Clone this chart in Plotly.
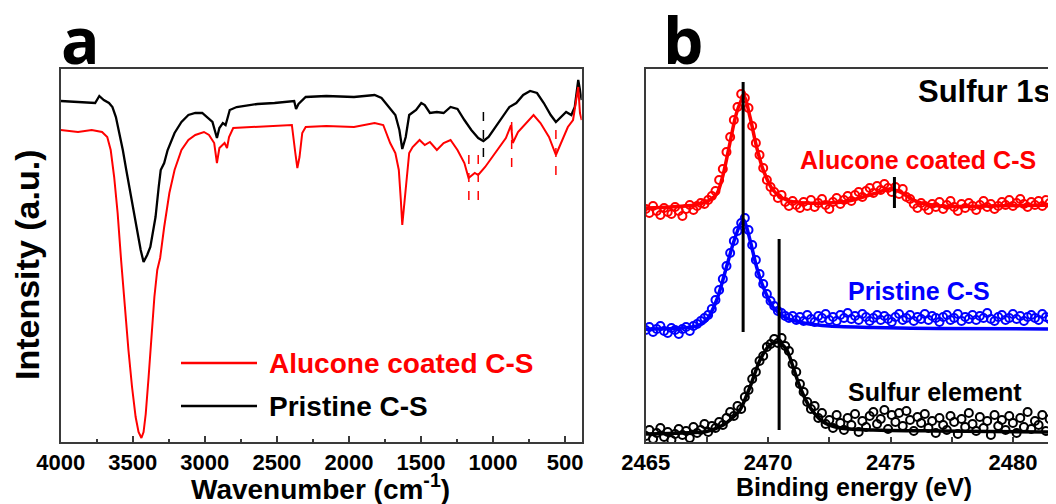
import numpy as np
import plotly.graph_objects as go

# ---------------- Panel a: FTIR ----------------
pristine_wn = [4000, 3880, 3761, 3732, 3701, 3665, 3641, 3617, 3593, 3569, 3545, 3509, 3473, 3445,
               3425, 3400, 3378, 3342, 3320, 3306, 3282, 3258, 3210, 3162, 3114, 3066, 3018, 2983,
               2947, 2916, 2899, 2875, 2856, 2846, 2827, 2779, 2635, 2516, 2396, 2380, 2367, 2350,
               2300, 2157, 1965, 1822, 1774, 1726, 1678, 1650, 1630, 1606, 1582, 1534, 1498, 1474,
               1438, 1390, 1343, 1295, 1247, 1199, 1151, 1103, 1067, 1031, 983, 935, 887, 839, 791,
               743, 695, 648, 600, 564, 529, 493, 457, 433, 409, 397, 385]
pristine_int = [341, 340, 339, 346, 342, 339, 335, 325, 310, 292, 272, 242, 212, 192,
                180, 187, 195, 225, 255, 272, 279, 292, 309, 320, 327, 329, 329, 325,
                320, 304, 314, 319, 317, 322, 332, 335, 338, 339, 341, 341, 333, 338,
                345, 346, 345, 347, 344, 335, 327, 312, 293, 305, 327, 332, 339, 337,
                329, 330, 329, 335, 333, 322, 312, 304, 301, 305, 315, 325, 335, 339, 347,
                351, 349, 339, 327, 320, 325, 330, 327, 335, 362, 352, 342]

alucone_wn = [4000, 3880, 3785, 3713, 3677, 3653, 3629, 3605, 3581, 3555, 3530, 3505, 3480, 3460,
              3440, 3425, 3410, 3390, 3370, 3350, 3330, 3310, 3282, 3246, 3210, 3162, 3114, 3066,
              3006, 2971, 2935, 2916, 2899, 2863, 2846, 2832, 2803, 2635, 2396, 2372, 2358, 2343,
              2324, 2300, 2157, 1965, 1822, 1762, 1714, 1678, 1654, 1640, 1630, 1620, 1606, 1582,
              1558, 1510, 1474, 1438, 1390, 1343, 1295, 1247, 1199, 1170, 1127, 1103, 1055, 983,
              911, 875, 863, 827, 767, 719, 671, 612, 564, 529, 481, 445, 421, 409, 397, 385]
alucone_int = [312, 310, 312, 310, 305, 292, 265, 229, 182, 135, 92, 55, 25, 10,
               4, 10, 28, 65, 105, 145, 172, 184, 215, 249, 272, 292, 302, 307,
               310, 307, 299, 279, 294, 299, 294, 305, 314, 315, 317, 289, 274, 285,
               309, 315, 316, 315, 319, 317, 299, 289, 272, 242, 217, 232, 255, 289,
               295, 302, 297, 300, 292, 299, 302, 292, 279, 264, 269, 267, 275, 289,
               304, 317, 299, 310, 320, 327, 319, 305, 287, 299, 315, 322, 345, 355, 329, 322]

pristine_mark_wn = [1067]
pristine_mark_top = [335]
pristine_mark_bottom = [285]
alucone_mark_wn = [1168, 1103, 871, 564]
alucone_mark_top = [292, 292, 325, 317]
alucone_mark_bottom = [242, 242, 275, 267]

ftir_ticks = [4000, 3500, 3000, 2500, 2000, 1500, 1000, 500]
ftir_minor = [3750, 3250, 2750, 2250, 1750, 1250, 750]

# ---------------- Panel b: XPS S 1s ----------------
xps_energy = np.round(2465.0 + 0.15 * np.arange(112), 2)

alucone_xps_pts = [233, 229, 236, 231, 227, 234, 230, 228, 235, 231,
                   226, 233, 237, 232, 236, 239, 238, 242, 246, 251,
                   262, 273, 290, 305, 322, 335, 348, 344, 334, 316,
                   299, 287, 274, 262, 255, 250, 244, 247, 240, 236,
                   241, 237, 234, 240, 236, 242, 235, 239, 243, 237,
                   233, 240, 244, 238, 242, 246, 241, 247, 250, 245,
                   251, 254, 249, 256, 252, 258, 254, 250, 255, 248,
                   253, 245, 243, 238, 234, 239, 236, 232, 238, 235,
                   240, 233, 237, 241, 235, 231, 238, 234, 239, 236,
                   232, 237, 241, 235, 238, 233, 236, 240, 237, 242,
                   236, 239, 243, 238, 235, 240, 237, 241, 236, 242, 239, 243]
pristine_xps_pts = [112, 115, 110, 113, 116, 111, 109, 114, 112, 108,
                    113, 115, 111, 116, 118, 121, 124, 127, 133, 142,
                    152, 163, 176, 189, 201, 211, 219, 224, 212, 197,
                    182, 168, 158, 148, 141, 136, 131, 129, 126, 124,
                    126, 122, 125, 121, 127, 123, 120, 126, 124, 128,
                    122, 125, 121, 127, 124, 129, 123, 126, 122, 128,
                    125, 121, 124, 127, 122, 126, 123, 120, 125, 128,
                    122, 124, 127, 121, 125, 123, 128, 122, 126, 124,
                    120, 125, 127, 122, 124, 128, 121, 125, 123, 127,
                    122, 126, 124, 129, 123, 121, 125, 127, 122, 124,
                    128, 123, 126, 121, 125, 127, 124, 122, 128, 125, 123, 126]
sulfur_xps_pts = [6, 12, 3, 9, 14, 5, 10, 2, 8, 13,
                  7, 11, 4, 15, 9, 12, 18, 10, 16, 14,
                  20, 17, 24, 30, 26, 36, 33, 45, 52, 63,
                  70, 81, 86, 95, 98, 103, 99, 104, 96, 91,
                  78, 70, 58, 50, 40, 33, 36, 24, 29, 18,
                  22, 14, 27, 19, 12, 24, 17, 28, 10, 21,
                  15, 26, 30, 18, 23, 32, 13, 27, 20, 29,
                  16, 31, 22, 11, 25, 19, 28, 14, 21, 9,
                  24, 17, 12, 26, 20, 8, 23, 15, 29, 18,
                  11, 25, 14, 21, 7, 27, 16, 22, 12, 26,
                  19, 9, 24, 15, 30, 13, 21, 17, 27, 11, 23, 20]

alucone_fit_e = [2465.0, 2466.0, 2467.0, 2467.5, 2467.9, 2468.17, 2468.44, 2468.71, 2469.01, 2469.26,
                 2469.53, 2469.8, 2470.2, 2470.75, 2471.57, 2473.2, 2474.28, 2474.97, 2475.38,
                 2476.06, 2477.0, 2479.0, 2481.8]
alucone_fit_v = [234, 235, 237, 240.5, 248, 268, 299, 329, 346, 325,
                 295, 272, 252, 242, 239, 240.5, 248, 253, 250,
                 240.5, 236, 236, 237]
pristine_fit_e = [2465.0, 2466.5, 2467.2, 2467.49, 2467.9, 2468.3, 2468.58, 2468.85, 2469.01, 2469.26,
                  2469.53, 2469.8, 2470.2, 2470.75, 2471.57, 2472.5, 2474.3, 2477.0, 2481.8]
pristine_fit_v = [113, 114, 117, 122, 142, 175, 199, 217, 222, 202,
                  175, 155, 135, 124, 118.5, 116, 114.5, 113.5, 113]
sulfur_fit_e = [2465.0, 2466.5, 2467.49, 2468.17, 2468.58, 2468.85, 2469.26, 2469.67, 2470.07, 2470.41,
                2470.76, 2471.02, 2471.3, 2471.7, 2472.25, 2472.93, 2474.29, 2477.0, 2481.8]
sulfur_fit_v = [8, 9, 10.5, 17, 25, 32, 55, 82, 97, 100,
                92, 75, 55, 35, 20, 14, 12, 11, 10]

xps_line_e = [2468.98, 2470.45, 2475.16]
xps_line_top = [360, 203, 265]
xps_line_bottom = [110, 12, 234]

xps_ticks = [2465, 2470, 2475, 2480]
xps_minor = [2467.5, 2472.5, 2477.5]

# ---------------- figure ----------------
# the page body has an 8 px margin, so the figure is made 8 px smaller and
# every reference pixel coordinate is shifted by that offset
OFF = 8
W, H = 1056 - OFF, 504 - OFF
def px(x):
    return (x - OFF) / W
def py(y):
    return 1 - (y - OFF) / H

RED = "#ff0000"
BLUE = "#0000ff"
BLK = "#000000"
FONT = "Liberation Sans, Arial, sans-serif"

def vsegs(xs, tops, bots):
    X, Y = [], []
    for x, t, b in zip(xs, tops, bots):
        X += [x, x, None]
        Y += [b, t, None]
    return X, Y

fig = go.Figure()

fig.add_trace(go.Scatter(x=pristine_wn, y=pristine_int, mode="lines",
                         line=dict(color=BLK, width=2.3), xaxis="x", yaxis="y", showlegend=False))
fig.add_trace(go.Scatter(x=alucone_wn, y=alucone_int, mode="lines",
                         line=dict(color=RED, width=2), xaxis="x", yaxis="y", showlegend=False))
X, Y = vsegs(pristine_mark_wn, pristine_mark_top, pristine_mark_bottom)
fig.add_trace(go.Scatter(x=X, y=Y, mode="lines", line=dict(color=BLK, width=1.5, dash="dash"),
                         xaxis="x", yaxis="y", showlegend=False))
X, Y = vsegs(alucone_mark_wn, alucone_mark_top, alucone_mark_bottom)
fig.add_trace(go.Scatter(x=X, y=Y, mode="lines", line=dict(color=RED, width=1.5, dash="dash"),
                         xaxis="x", yaxis="y", showlegend=False))

for pts, fe, fv, col in [(alucone_xps_pts, alucone_fit_e, alucone_fit_v, RED),
                         (pristine_xps_pts, pristine_fit_e, pristine_fit_v, BLUE),
                         (sulfur_xps_pts, sulfur_fit_e, sulfur_fit_v, BLK)]:
    fig.add_trace(go.Scatter(x=xps_energy, y=pts, mode="markers",
                             marker=dict(symbol="circle-open", size=8, color=col, line=dict(width=2, color=col)),
                             xaxis="x2", yaxis="y2", showlegend=False))
    fig.add_trace(go.Scatter(x=fe, y=fv, mode="lines", line=dict(color=col, width=3.5, shape="spline", smoothing=0.8),
                             xaxis="x2", yaxis="y2", showlegend=False))

X, Y = vsegs(xps_line_e, xps_line_top, xps_line_bottom)
fig.add_trace(go.Scatter(x=X, y=Y, mode="lines", line=dict(color=BLK, width=3),
                         xaxis="x2", yaxis="y2", showlegend=False))

axis_line = dict(showline=True, linecolor="#3a3a3a", linewidth=1.5, showgrid=False, zeroline=False,
                 automargin=False)
tickfont = dict(family=FONT, size=22, color="#000", weight="bold")

fig.update_layout(
    template="none",
    width=W, height=H, autosize=False,
    margin=dict(l=0, r=0, t=0, b=0, pad=0),
    paper_bgcolor="white", plot_bgcolor="white",
    xaxis=dict(domain=[px(60.7), px(581.7)], range=[4000, 385], tickvals=ftir_ticks,
               ticks="inside", ticklen=6, tickwidth=1.5, tickcolor="#3a3a3a", mirror=True,
               minor=dict(tickvals=ftir_minor, ticks="inside", ticklen=3, tickwidth=1.5, tickcolor="#3a3a3a"),
               tickfont=tickfont, anchor="y", **axis_line),
    yaxis=dict(domain=[py(442), py(69)], range=[0, 373], showticklabels=False, ticks="",
               mirror=True, anchor="x", **axis_line),
    xaxis2=dict(domain=[px(645.7), 1.0], range=[2465, 2481.76], tickvals=xps_ticks,
                ticks="inside", ticklen=5, tickwidth=1.5, tickcolor="#3a3a3a", mirror=True,
                minor=dict(tickvals=xps_minor, ticks="inside", ticklen=5, tickwidth=1.5, tickcolor="#3a3a3a"),
                tickfont=tickfont, anchor="y2", **axis_line),
    yaxis2=dict(domain=[py(442), py(69)], range=[0, 373], showticklabels=False, ticks="",
                mirror=False, anchor="x2", **axis_line),
)

def ann(text, x, y, size, color=BLK, xanchor="center", angle=0, family=FONT):
    fig.add_annotation(text=text, x=px(x), y=py(y), xref="paper", yref="paper",
                       xanchor=xanchor, yanchor="middle", showarrow=False, textangle=angle,
                       font=dict(family=family, size=size, color=color, weight="bold"))

ann("a", 80, 40, 64, family="Open Sans, sans-serif")
ann("b", 683, 40, 64, family="Open Sans, sans-serif")
ann("Intensity (a.u.)", 27, 265, 34, angle=-90)
ann("Wavenumber (cm<sup>-1</sup>)", 320, 487, 28)
ann("Binding energy (eV)", 854, 487, 25)

# legend of panel a
fig.add_shape(type="line", xref="paper", yref="paper", x0=px(181), x1=px(257), y0=py(363), y1=py(363),
              line=dict(color=RED, width=2.5))
fig.add_shape(type="line", xref="paper", yref="paper", x0=px(181), x1=px(257), y0=py(406), y1=py(406),
              line=dict(color=BLK, width=2.5))
ann("Alucone coated C-S", 267, 363, 28, color=RED, xanchor="left")
ann("Pristine C-S", 267, 406, 28, xanchor="left")

# panel b labels
ann("Sulfur 1s", 1053, 92, 31, xanchor="right")
ann("Alucone coated C-S", 918, 160, 25, color=RED)
ann("Pristine C-S", 919, 291, 25, color=BLUE)
ann("Sulfur element", 935, 392, 25)

fig.write_html("out.html")
